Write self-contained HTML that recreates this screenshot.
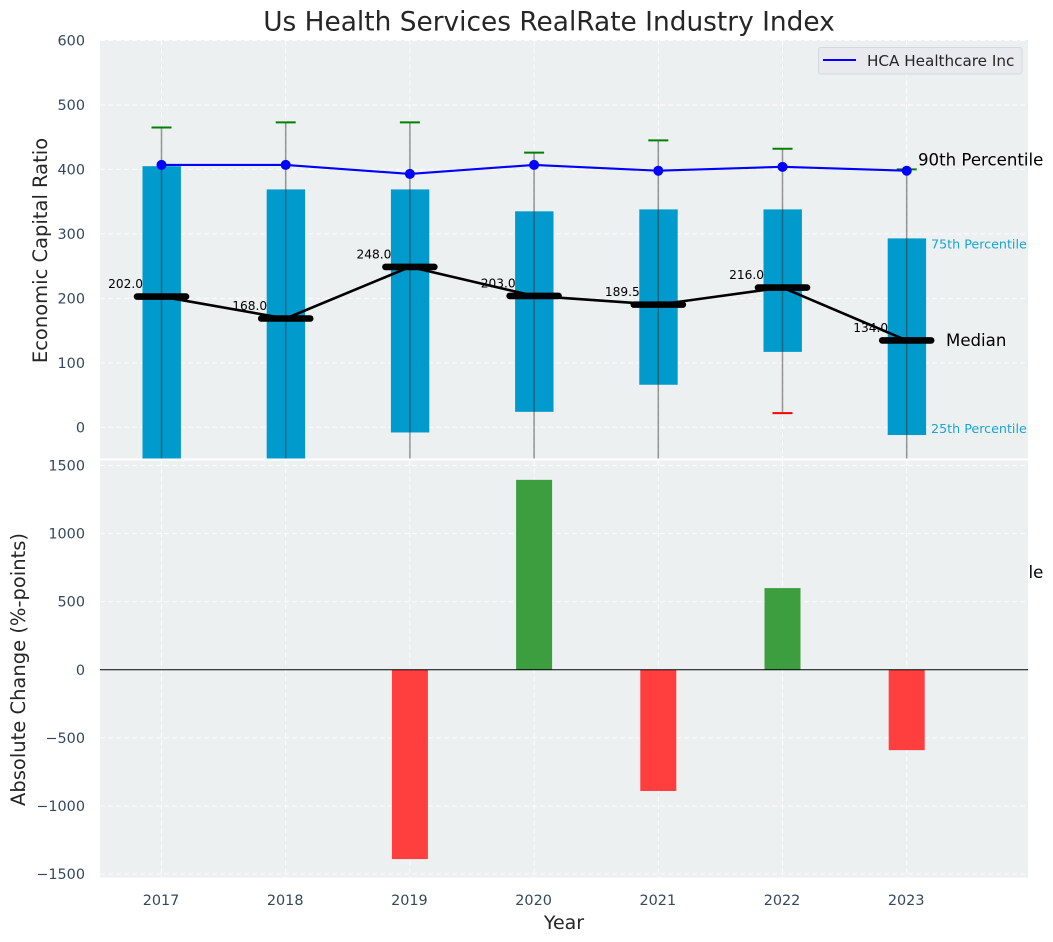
<!DOCTYPE html>
<html>
<head>
<meta charset="utf-8">
<title>Us Health Services RealRate Industry Index</title>
<style>
html,body{margin:0;padding:0;background:#fff;width:1053px;height:942px;overflow:hidden}
svg{display:block;font-family:"DejaVu Sans","Liberation Sans",sans-serif}
</style>
</head>
<body>
<svg id="chart" xmlns="http://www.w3.org/2000/svg" width="1053" height="942" viewBox="0 0 1053 942">
<defs>
<clipPath id="clip-top"><rect x="100" y="40" width="928" height="418.5"/></clipPath>
<clipPath id="clip-bottom"><rect x="100" y="460.5" width="928" height="417"/></clipPath>
</defs>
</svg>
<script>
const years = [2017, 2018, 2019, 2020, 2021, 2022, 2023];
const p90 = [465, 473, 473, 426, 445, 432, 400];
const p75 = [405, 369, 369, 335, 338, 338, 293];
const medians = [202, 168, 248, 203, 189.5, 216, 134];
const p25 = [-120, -90, -8, 24, 66, 117, -12];
const p10 = [-300, -300, -250, -200, -200, 22, -200];
const company = [407, 407, 393, 407, 398, 404, 398];
const changes = [0, 0, -1390, 1395, -890, 600, -590];
const topTicks = [0, 100, 200, 300, 400, 500, 600];
const bottomTicks = [-1500, -1000, -500, 0, 500, 1000, 1500];

const svg = document.getElementById('chart');
const NS = 'http://www.w3.org/2000/svg';
function xScale(year) { return 161.5 + (year - 2017) * 124.2; }
function yTop(v) { return 427.3 - v * 0.6447; }
function yBottom(v) { return 669.8 - v * 0.13617; }

function make(tag, attrs, parent, text) {
  const el = document.createElementNS(NS, tag);
  for (const k in attrs) el.setAttribute(k, attrs[k]);
  if (text !== undefined) el.textContent = text;
  (parent || svg).appendChild(el);
  return el;
}
function group(clip) {
  const g = document.createElementNS(NS, 'g');
  if (clip) g.setAttribute('clip-path', 'url(#' + clip + ')');
  svg.appendChild(g);
  return g;
}
function fmtTick(v) { return v < 0 ? '\u2212' + Math.abs(v) : String(v); }

/* top panel */
const topPanel = group();


const topBg = make('rect', {x: 100, y: 40, width: 928, height: 418.5, fill: '#ecf0f1'}, topPanel);


const topClip = group('clip-top');
topPanel.appendChild(topClip);

topTicks.forEach(function (t) {
  const y = yTop(t);
  const line = make('line', {x1: 100, x2: 1028, y1: y, y2: y, stroke: '#fff', 'stroke-width': 1, 'stroke-dasharray': '5 3', 'stroke-opacity': 0.85}, topClip);
  
  
  const label = make('text', {x: 85, y: y + 5, 'text-anchor': 'end', 'font-size': 14.4, fill: '#34495e'}, topPanel, fmtTick(t));
  
  
});
years.forEach(function (yr) {
  const x = xScale(yr);
  const line = make('line', {x1: x, x2: x, y1: 40, y2: 458.5, stroke: '#fff', 'stroke-width': 1, 'stroke-dasharray': '5 3', 'stroke-opacity': 0.85}, topClip);
  
  
});

/* boxes */
years.forEach(function (yr, i) {
  const x = xScale(yr);
  const bar = make('rect', {x: x - 19, y: yTop(p75[i]), width: 38.4, height: yTop(p25[i]) - yTop(p75[i]), fill: '#009acd'}, topClip);
  
  
});
/* whiskers */
years.forEach(function (yr, i) {
  const x = xScale(yr);
  const w = make('line', {x1: x, x2: x, y1: yTop(p90[i]), y2: yTop(p10[i]), stroke: '#333', 'stroke-opacity': 0.5, 'stroke-width': 1.5}, topClip);
  
  
  const c = make('line', {x1: x - 10, x2: x + 10, y1: yTop(p90[i]), y2: yTop(p90[i]), stroke: '#008000', 'stroke-width': 2}, topClip);
  
  
  const c2 = make('line', {x1: x - 10, x2: x + 10, y1: yTop(p10[i]), y2: yTop(p10[i]), stroke: '#ff0000', 'stroke-width': 2}, topClip);
  
  
});
/* median value labels */
years.forEach(function (yr, i) {
  const label = make('text', {x: xScale(yr) - 18.5, y: yTop(medians[i]) - 9, 'text-anchor': 'end', 'font-size': 12.2, fill: '#000'}, topClip, medians[i].toFixed(1));
  
  
});
/* median line */
const medianLine = make('polyline', {points: years.map(function (yr, i) { return xScale(yr) + ',' + (yTop(medians[i]) - 0.5); }).join(' '), fill: 'none', stroke: '#000', 'stroke-width': 2.6}, topClip);


years.forEach(function (yr, i) {
  const x = xScale(yr);
  const m = make('line', {x1: x - 24.5, x2: x + 24.5, y1: yTop(medians[i]) - 0.5, y2: yTop(medians[i]) - 0.5, stroke: '#000', 'stroke-width': 6.6, 'stroke-linecap': 'round'}, topClip);
  
  
});
/* company line */
const companyLine = make('polyline', {points: years.map(function (yr, i) { return xScale(yr) + ',' + yTop(company[i]); }).join(' '), fill: 'none', stroke: '#0000ff', 'stroke-width': 2.1}, topClip);


years.forEach(function (yr, i) {
  const p = make('circle', {cx: xScale(yr), cy: yTop(company[i]), r: 5, fill: '#0000ff'}, topClip);
  
  
});

/* annotation partly hidden behind the lower panel */
const p10Note = make('text', {x: 918, y: 578, 'font-size': 16.6, fill: '#000'}, svg, '10th Percentile');



/* bottom panel */
const bottomPanel = group();


const bottomBg = make('rect', {x: 100, y: 460.5, width: 928, height: 417, fill: '#ecf0f1'}, bottomPanel);


const bottomClip = group('clip-bottom');
bottomPanel.appendChild(bottomClip);

bottomTicks.forEach(function (t) {
  const y = yBottom(t);
  const line = make('line', {x1: 100, x2: 1028, y1: y, y2: y, stroke: '#fff', 'stroke-width': 1, 'stroke-dasharray': '5 3', 'stroke-opacity': 0.85}, bottomClip);
  
  
  const label = make('text', {x: 85, y: y + 5, 'text-anchor': 'end', 'font-size': 14.4, fill: '#34495e'}, bottomPanel, fmtTick(t));
  
  
});
years.forEach(function (yr) {
  const x = xScale(yr);
  const line = make('line', {x1: x, x2: x, y1: 460.5, y2: 877.5, stroke: '#fff', 'stroke-width': 1, 'stroke-dasharray': '5 3', 'stroke-opacity': 0.85}, bottomClip);
  
  
  const label = make('text', {x: x - 0.5, y: 905, 'text-anchor': 'middle', 'font-size': 14.4, fill: '#34495e'}, bottomPanel, String(yr));
  
  
});
years.forEach(function (yr, i) {
  if (changes[i] === 0) return;
  const top = Math.min(yBottom(0), yBottom(changes[i]));
  const h = Math.abs(yBottom(changes[i]) - yBottom(0));
  const bar = make('rect', {x: xScale(yr) - 18, y: top, width: 36, height: h, fill: changes[i] > 0 ? '#3c9e3f' : '#ff3e3e'}, bottomClip);
  
  
});
const zero = make('line', {x1: 100, x2: 1028, y1: yBottom(0), y2: yBottom(0), stroke: '#000', 'stroke-width': 1}, bottomClip);



/* annotations on top panel */
const lastX = xScale(2023);
const n90 = make('text', {x: 918, y: 165.5, 'font-size': 16.6, fill: '#000'}, svg, '90th Percentile');


const n75 = make('text', {x: 931, y: 248.5, 'font-size': 12.7, fill: '#19a5d1'}, svg, '75th Percentile');


const n25 = make('text', {x: 931, y: 433, 'font-size': 12.7, fill: '#19a5d1'}, svg, '25th Percentile');


const nMed = make('text', {x: 946, y: 346, 'font-size': 16.6, fill: '#000'}, svg, 'Median');



/* legend */
const legend = group();


make('rect', {x: 818.5, y: 47.5, width: 203.5, height: 26.5, rx: 2.5, fill: '#e8eaf0', stroke: '#d5d8dc', 'stroke-width': 1}, legend);
const legendLine = make('line', {x1: 823, x2: 856, y1: 60, y2: 60, stroke: '#0000ff', 'stroke-width': 2}, legend);


const legendText = make('text', {x: 867, y: 66, 'font-size': 15.2, fill: '#262626'}, legend, 'HCA Healthcare Inc');



/* titles */
const title = make('text', {x: 549, y: 30.5, 'text-anchor': 'middle', 'font-size': 26.4, fill: '#262626'}, svg, 'Us Health Services RealRate Industry Index');


const yTitleTop = make('text', {transform: 'translate(47,250.5) rotate(-90)', 'text-anchor': 'middle', 'font-size': 19.5, fill: '#262626'}, svg, 'Economic Capital Ratio');


const yTitleBottom = make('text', {transform: 'translate(25,669.5) rotate(-90)', 'text-anchor': 'middle', 'font-size': 19.5, fill: '#262626'}, svg, 'Absolute Change (%-points)');


const xTitle = make('text', {x: 564, y: 929, 'text-anchor': 'middle', 'font-size': 19, fill: '#262626'}, svg, 'Year');


</script>
</body>
</html>
